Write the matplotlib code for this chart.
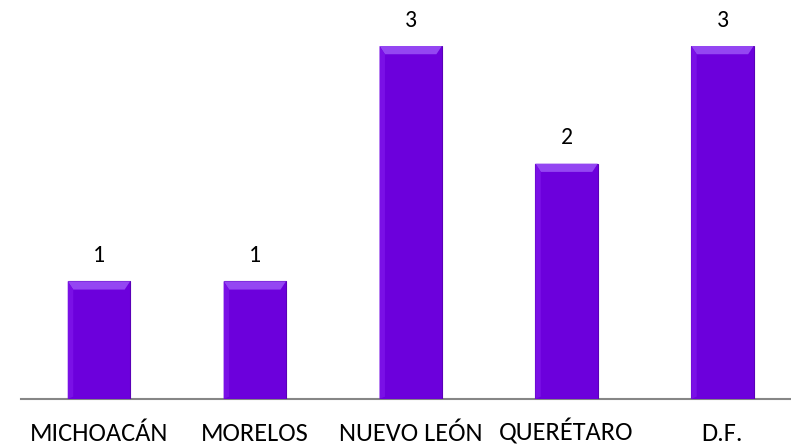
import matplotlib
matplotlib.use("Agg")
import matplotlib.pyplot as plt
from matplotlib.patches import Polygon

categories = ["MICHOACÁN", "MORELOS", "NUEVO LEÓN", "QUERÉTARO", "D.F."]
values = [1, 1, 3, 2, 3]

W, H = 791, 445
fig = plt.figure(figsize=(W / 100, H / 100), dpi=100)
ax = fig.add_axes([21 / W, (H - 399) / H, 770 / W, 353 / H])

font = ["Carlito", "DejaVu Sans"]
x = list(range(len(categories)))
width = 0.4
bars = ax.bar(x, values, width=width, color="#6c00dc", edgecolor="#5a00b8",
              linewidth=0.8, zorder=3)

# bevel highlight on top of each bar
bevel_h = 0.07
bevel_in = 0.035
for b in bars:
    x0, x1, top = b.get_x(), b.get_x() + b.get_width(), b.get_height()
    ax.add_patch(Polygon([(x0, top), (x1, top), (x1 - bevel_in, top - bevel_h),
                          (x0 + bevel_in, top - bevel_h)], closed=True,
                         facecolor="#9446f2", edgecolor="none", zorder=4))
    ax.add_patch(Polygon([(x0, top), (x0 + bevel_in, top - bevel_h),
                          (x0 + bevel_in, 0.02), (x0, 0)], closed=True,
                         facecolor="#7a10e6", edgecolor="none", zorder=4))
    ax.text(b.get_x() + b.get_width() / 2, top + 0.13, str(int(top)),
            ha="center", va="bottom", fontsize=17, family=font, clip_on=False)

ax.set_xlim(-0.5, 4.44)
ax.set_ylim(0, 3)
for s in ["top", "right", "left"]:
    ax.spines[s].set_visible(False)
ax.spines["bottom"].set_color("#868686")
ax.spines["bottom"].set_linewidth(1.5)
ax.set_yticks([])
ax.set_xticks(x)
ax.set_xticklabels(categories, fontsize=19, family=font)
for lbl in ax.get_xticklabels():
    lbl.set_verticalalignment("baseline")
ax.tick_params(axis="x", length=0, pad=30)

fig.savefig("out.png", dpi=100)
